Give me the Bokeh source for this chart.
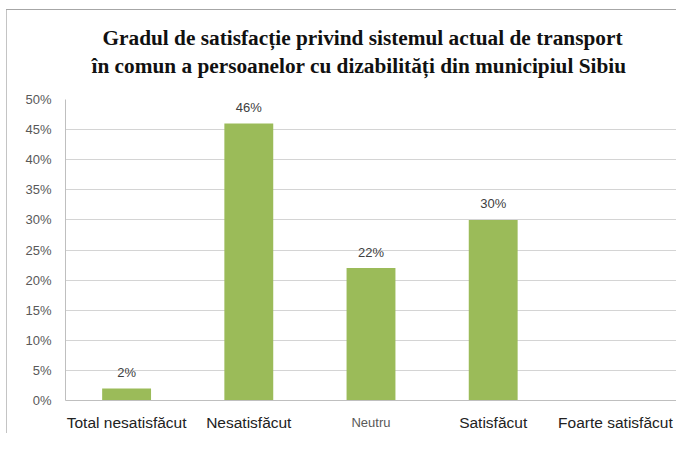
from bokeh.plotting import figure
from bokeh.models import Range1d, FixedTicker, NumeralTickFormatter, ColumnDataSource, Title, LinearAxis
from bokeh.core.properties import value
from bokeh.embed import file_html
from bokeh.resources import INLINE

title_lines = ["Gradul de satisfacție privind sistemul actual de transport",
               "în comun a persoanelor cu dizabilități din municipiul Sibiu"]
categories = ["Total nesatisfăcut", "Nesatisfăcut", "Neutru", "Satisfăcut", "Foarte satisfăcut"]
values = [0.02, 0.46, 0.22, 0.30, 0.0]
y_ticks = [0.0, 0.05, 0.10, 0.15, 0.20, 0.25, 0.30, 0.35, 0.40, 0.45, 0.50]
small_label = "Neutru"

xs = [i + 0.5 for i in range(len(categories))]
labels = [f"{round(v * 100)}%" if v > 0 else "" for v in values]
src = ColumnDataSource(dict(x=xs, top=values, label=labels, cat=categories))

p = figure(width=676, height=433, x_range=Range1d(0, len(categories)), y_range=Range1d(0, 0.5),
           output_backend="svg", toolbar_location=None,
           min_border_left=65, min_border_right=0, min_border_top=99, min_border_bottom=32)
p.background_fill_color = "white"
p.border_fill_color = None
p.outline_line_color = None
# chart-area border (top and left edges visible in the original)
p.styles = {
    "background": "linear-gradient(#a6a6a6, #a6a6a6) 6px 9px / 100% 1px no-repeat, "
                  "linear-gradient(#c4c4c4, #c4c4c4) 6px 9px / 1px 100% no-repeat, white"
}

# title: second line nearest the plot, first line above it
for line, standoff, offset in [(title_lines[1], 44, 26), (title_lines[0], -40, 37)]:
    p.add_layout(Title(text=line, align="left", offset=offset, standoff=standoff,
                       text_font="Liberation Serif", text_font_style="bold",
                       text_font_size="21.3px", text_color="#111111"), "above")

p.vbar(x="x", top="top", width=0.4, source=src, fill_color="#9bbb59", line_color=None)
p.text(x="x", y="top", text="label", source=src, text_align="center", text_baseline="middle",
       y_offset=-16, text_font=value("Liberation Sans"), text_font_size="13px", text_color="#404040")

# y axis
p.yaxis.ticker = FixedTicker(ticks=y_ticks)
p.yaxis.formatter = NumeralTickFormatter(format="0%")
p.yaxis.major_tick_line_color = None
p.yaxis.major_tick_out = 0
p.yaxis.minor_tick_line_color = None
p.yaxis.minor_tick_out = 0
p.yaxis.axis_line_color = "#bfbfbf"
p.yaxis.major_label_standoff = 14
p.yaxis.major_label_text_font = "Liberation Sans"
p.yaxis.major_label_text_font_size = "13px"
p.yaxis.major_label_text_color = "#595959"

# x axis
axis_ticks = [x for x, c in zip(xs, categories) if c != small_label]
p.xaxis.ticker = FixedTicker(ticks=axis_ticks)
p.xaxis.major_label_overrides = {x: c for x, c in zip(xs, categories) if c != small_label}
p.xaxis.major_tick_line_color = None
p.xaxis.major_tick_out = 0
p.xaxis.minor_tick_line_color = None
p.xaxis.minor_tick_out = 0
p.xaxis.axis_line_color = "#bfbfbf"
p.xaxis.major_label_standoff = 13
p.xaxis.major_label_text_font = "Liberation Sans"
p.xaxis.major_label_text_font_size = "15.5px"
p.xaxis.major_label_text_color = "#222222"

# the "Neutru" label is smaller and lighter in the original
small_ticks = [x for x, c in zip(xs, categories) if c == small_label]
ax2 = LinearAxis(ticker=FixedTicker(ticks=small_ticks),
                 major_label_overrides={x: small_label for x in small_ticks},
                 axis_line_color=None, major_tick_line_color=None, minor_tick_line_color=None,
                 major_tick_out=0, minor_tick_out=0,
                 major_label_standoff=-19, major_label_text_font="Liberation Sans",
                 major_label_text_font_size="13px", major_label_text_color="#595959")
p.add_layout(ax2, "below")

p.xgrid.grid_line_color = None
p.ygrid.grid_line_color = "#d4d4d4"
p.ygrid.grid_line_width = 1

open("out.html", "w").write(file_html(p, INLINE))
